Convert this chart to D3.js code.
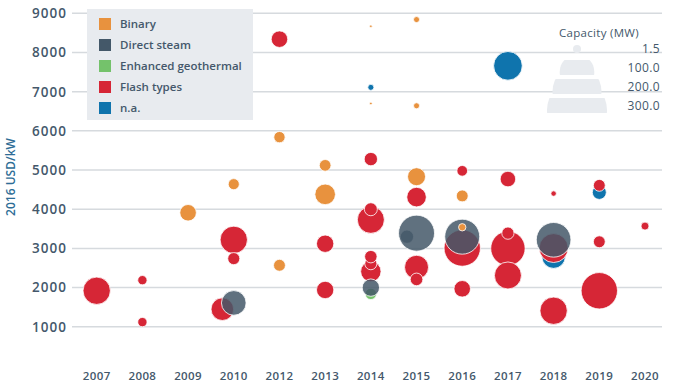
<!DOCTYPE html>
<html>
<head>
<meta charset="utf-8">
<script src="https://cdn.jsdelivr.net/npm/d3@7"></script>
<style>
  body { margin: 0; background: #fff; }
  svg { display: block; font-family: "Open Sans", sans-serif; }
</style>
</head>
<body>
<svg id="chart" width="680" height="391"></svg>
<script>
// categories on the x axis (no 2011 in the source)
const years = ["2007", "2008", "2009", "2010", "2012", "2013", "2014", "2015", "2016", "2017", "2018", "2019", "2020"];
const types = ["Binary", "Direct steam", "Enhanced geothermal", "Flash types", "n.a."];
const typeColors = ["#e8923e", "#445869", "#74c26b", "#d62636", "#0f74ad"];

// one entry per project
const projYear = ["2007","2008","2008","2009","2010","2010","2010","2010","2010",
  "2012","2012","2012","2013","2013","2013","2013",
  "2014","2014","2014","2014","2014","2014","2014","2014","2014","2014","2014",
  "2015","2015","2015","2015","2015","2015","2015","2015",
  "2016","2016","2016","2016","2016","2016",
  "2017","2017","2017","2017","2017",
  "2018","2018","2018","2018","2018",
  "2019","2019","2019","2019","2020"];
const projType = ["Flash types","Flash types","Flash types","Binary","Binary","Flash types","Flash types","Flash types","Direct steam",
  "Flash types","Binary","Binary","Binary","Binary","Flash types","Flash types",
  "Binary","n.a.","Binary","Flash types","Flash types","Flash types","Flash types","Flash types","Flash types","Direct steam","Enhanced geothermal",
  "Binary","Binary","Binary","Flash types","Direct steam","Direct steam","Flash types","Flash types",
  "Flash types","Binary","Flash types","Direct steam","Binary","Flash types",
  "n.a.","Flash types","Flash types","Flash types","Flash types",
  "Flash types","n.a.","Flash types","Direct steam","Flash types",
  "n.a.","Flash types","Flash types","Flash types","Flash types"];
const projCost = [1920,2190,1120,3910,4640,3220,2740,1450,1610,
  8340,5840,2570,5120,4380,3120,1940,
  8670,7110,6700,5280,3730,4000,2410,2610,2790,2000,1840,
  8840,6640,4830,4310,3300,3390,2520,2210,
  4980,4340,3010,3300,3540,1970,
  7660,4770,3000,3390,2310,
  4400,2790,3010,3220,1410,
  4430,4610,3170,1920,3570];
const projMW = [164,19,19,60,27,164,32,112,133,
  60,28,31,30,93,66,66,
  1.5,8,1.5,39,160,37,91,32,34,66,28,
  8,8,71,84,39,284,126,35,
  25,31,290,268,12,60,
  180,53,259,33,160,
  6.4,120,184,263,164,
  43,31,31,290,14];
// a couple of bubbles sit a little left of their year (fraction of a year step)
const projShift = [0,0,0,0,0,0,0,-0.25,0,
  0,0,0,0,0,0,0,
  0,0,0,0,0,0,0,0,0,0,0,
  0,0,0,0,-0.21,0,0,0,
  0,0,0,0,0,0,
  0,0,0,0,0,
  0,0,0,0,0,
  0,0,0,0,0];

const yTicks = [1000, 2000, 3000, 4000, 5000, 6000, 7000, 8000, 9000];
const legendSizes = [1.5, 100, 200, 300];

// drawing order: n.a. at the bottom, binary on top
const drawRank = { "n.a.": 0, "Enhanced geothermal": 1, "Flash types": 2, "Direct steam": 3, "Binary": 4 };

const svg = d3.select("#chart");
const textCol = "#44586b";

const x = d3.scalePoint().domain(years).range([96.7, 645]);
const y = d3.scaleLinear().domain([0, 9000]).range([366, 13.3]);
const r = d3.scaleSqrt().domain([0, 300]).range([0, 18.5]);
const color = d3.scaleOrdinal().domain(types).range(typeColors);

// gridlines
svg.append("g")
  .selectAll("line")
  .data(yTicks)
  .join("line")
  .attr("x1", 72).attr("x2", 662)
  .attr("y1", d => y(d)).attr("y2", d => y(d))
  .attr("stroke", "#d6dade")
  .attr("stroke-width", 1.5);

// y tick labels
svg.append("g")
  .selectAll("text")
  .data(yTicks)
  .join("text")
  .attr("x", 67)
  .attr("y", d => y(d))
  .attr("dy", "0.36em")
  .attr("text-anchor", "end")
  .attr("font-size", 13.5)
  .attr("font-weight", 600)
  .attr("letter-spacing", 1)
  .attr("fill", textCol)
  .text(d => d);

// x labels
svg.append("g")
  .selectAll("text")
  .data(years)
  .join("text")
  .attr("x", d => x(d))
  .attr("y", 380)
  .attr("text-anchor", "middle")
  .attr("font-size", 11.5)
  .attr("font-weight", 600)
  .attr("letter-spacing", 0.4)
  .attr("fill", textCol)
  .text(d => d);

// axis title
svg.append("text")
  .attr("transform", "translate(15,177) rotate(-90)")
  .attr("text-anchor", "middle")
  .attr("font-size", 12)
  .attr("font-weight", 600)
  .attr("fill", "#2e6d96")
  .text("2016 USD/kW");

// type legend box
const leg = svg.append("g");
leg.append("rect")
  .attr("x", 87).attr("y", 9)
  .attr("width", 166).attr("height", 111)
  .attr("fill", "#e8ebef");
const legItems = leg.selectAll("g")
  .data(types)
  .join("g")
  .attr("transform", (d, i) => `translate(99,${24 + i * 21})`);
legItems.append("rect")
  .attr("x", 0).attr("y", -6)
  .attr("width", 12).attr("height", 12)
  .attr("fill", d => color(d));
legItems.append("text")
  .attr("x", 21)
  .attr("dy", "0.36em")
  .attr("font-size", 11.5)
  .attr("font-weight", 600)
  .attr("fill", textCol)
  .text(d => d);

// bubbles
let bubbles = projYear.map((yr, i) => ({
  year: yr, type: projType[i], cost: projCost[i], mw: projMW[i], shift: projShift[i], i
}));
bubbles.sort((a, b) => (drawRank[a.type] - drawRank[b.type]) || (a.i - b.i));

svg.append("g")
  .selectAll("circle")
  .data(bubbles)
  .join("circle")
  .attr("cx", d => x(d.year) + d.shift * x.step())
  .attr("cy", d => y(d.cost))
  .attr("r", d => r(d.mw))
  .attr("fill", d => color(d.type))
  .attr("fill-opacity", d => d.type === "Direct steam" ? 0.85 : 1)
  .attr("stroke", "#fff")
  .attr("stroke-width", 0.8);

// capacity legend
const cap = svg.append("g");
cap.append("text")
  .attr("x", 599).attr("y", 37)
  .attr("text-anchor", "middle")
  .attr("font-size", 11.5)
  .attr("font-weight", 500)
  .attr("letter-spacing", 0.3)
  .attr("fill", textCol)
  .text("Capacity (MW)");

const legR = d3.scaleSqrt().domain([0, 300]).range([0, 30]);
const defs = svg.append("defs");
legendSizes.forEach((v, i) => {
  const rowY = 49 + i * 19;
  const rr = Math.max(4, legR(v));
  defs.append("clipPath").attr("id", "capclip" + i)
    .append("rect")
    .attr("x", 540).attr("y", rowY - 8)
    .attr("width", 80).attr("height", 15);
  cap.append("circle")
    .attr("cx", 577)
    .attr("cy", rowY + Math.min(rr, 8) - 4)
    .attr("r", rr)
    .attr("fill", "#e8ebef")
    .attr("clip-path", `url(#capclip${i})`);
  cap.append("text")
    .attr("x", 660).attr("y", rowY)
    .attr("dy", "0.36em")
    .attr("text-anchor", "end")
    .attr("font-size", 12)
    .attr("font-weight", 500)
    .attr("letter-spacing", 0.4)
    .attr("fill", textCol)
    .text(v.toFixed(1));
});
</script>
</body>
</html>
